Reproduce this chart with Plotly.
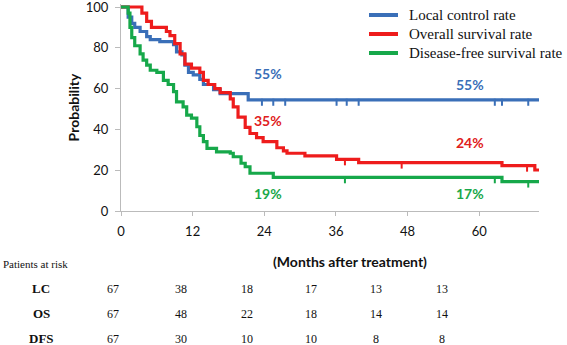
import plotly.graph_objects as go

# ---- data ----
lc_t = [0, 1.2, 1.8, 2.3, 3.2, 4.3, 4.9, 6.5, 8.8, 9.3, 10.2, 10.7, 11.3, 12.1, 13.2, 13.8, 15.5, 16.6, 21.3, 70]
lc_v = [100, 95, 92, 90, 88, 85.5, 84, 83, 81.5, 78, 76.5, 71.5, 68, 66.7, 64.5, 62, 59.5, 57.5, 54.5, 54.5]

os_t = [0, 3.5, 4.3, 5.1, 7.6, 8.2, 9.0, 9.9, 10.7, 11.8, 13.2, 13.8, 14.6, 15.7, 16.6, 18.3, 18.8, 19.6,
        20.8, 21.6, 22.7, 23.8, 26.1, 27.2, 27.8, 30.8, 36.1, 39.8, 63.8, 69.3, 70]
os_v = [100, 97, 93, 90, 88, 86, 82, 77, 72, 70, 68, 64, 62, 60, 58, 55, 51, 46,
        41, 38, 36, 34, 31, 29.5, 28.3, 27, 25.3, 23.7, 22.2, 20.1, 20.1]

dfs_t = [0, 1.2, 1.5, 1.8, 2.3, 3.2, 3.7, 4.3, 4.9, 6.0, 7.1, 7.9, 8.8, 9.3, 10.4, 11.0, 11.8, 12.7, 13.2,
         13.8, 14.4, 16.0, 18.3, 18.8, 20.1, 20.8, 21.6, 25.5, 63.8, 70]
dfs_v = [100, 97, 90, 85, 81, 77, 74, 71.5, 69, 68, 64, 62, 58.5, 53.5, 51, 47, 45.5, 41.3, 37,
         34, 30.7, 29, 28.3, 26.6, 23.4, 21.7, 18.5, 16.5, 14.4, 14.4]

lc_cens = [23.6, 25.5, 27.5, 36.1, 37.8, 39.8, 62.6, 63.8, 68.2]
os_cens = [37.5, 47.0, 68.0]
dfs_cens = [37.5, 62.6, 68.2]

series_names = ["Local control rate", "Overall survival rate", "Disease-free survival rate"]
colors = ["#3a6fb8", "#ee1c1c", "#16a84a"]
label_colors = ["#3a6fb8", "#e02020", "#1aa84a"]

# percentage labels
pct_x = [24.6, 58.5]
lc_pct = ["55%", "55%"]
os_pct = ["35%", "24%"]
dfs_pct = ["19%", "17%"]
lc_pct_y = [67.6, 61.8]
os_pct_y = [44.4, 33.6]
dfs_pct_y = [8.8, 8.6]

x_ticks = [0, 12, 24, 36, 48, 60]
y_ticks = [0, 20, 40, 60, 80, 100]

risk_rows = ["LC", "OS", "DFS"]
risk_lc = [67, 38, 18, 17, 13, 13]
risk_os = [67, 48, 22, 18, 14, 14]
risk_dfs = [67, 30, 10, 10, 8, 8]


def step_value(ts, vs, t):
    v = vs[0]
    for ti, vi in zip(ts, vs):
        if ti <= t:
            v = vi
    return v


fig = go.Figure()
all_series = [(lc_t, lc_v, lc_cens), (os_t, os_v, os_cens), (dfs_t, dfs_v, dfs_cens)]
for (ts, vs, cens), name, col in zip(all_series, series_names, colors):
    fig.add_trace(go.Scatter(x=ts, y=vs, mode="lines", line=dict(shape="hv", color=col, width=3.2),
                             name=name, showlegend=False))
for (ts, vs, cens), col in zip(all_series, colors):
    fig.add_trace(go.Scatter(x=cens, y=[step_value(ts, vs, c) - 1.2 for c in cens], mode="markers",
                             marker=dict(symbol="line-ns", size=5, line=dict(color=col, width=2)),
                             showlegend=False, hoverinfo="skip"))

# percentage labels
for ys, texts, col in [(lc_pct_y, lc_pct, label_colors[0]), (os_pct_y, os_pct, label_colors[1]),
                       (dfs_pct_y, dfs_pct, label_colors[2])]:
    for x, y, t in zip(pct_x, ys, texts):
        fig.add_annotation(x=x, y=y, xref="x", yref="y", text="<b>%s</b>" % t, showarrow=False,
                           xanchor="center", yanchor="middle",
                           font=dict(family="Lato", size=14, color=col))

# pixel -> paper helpers (plot area: left 121, right 539, top 4, bottom 211)
L, R, T, B = 121, 539, 4, 211


def px(xp):
    return (xp - L) / (R - L)


def py(yp):
    return (B - yp) / (B - T)


serif = "Liberation Serif"

# legend (drawn manually to match the compact spacing)
legend_y = [15, 34, 53]
for name, col, yy in zip(series_names, colors, legend_y):
    fig.add_shape(type="line", xref="paper", yref="paper", x0=px(369), x1=px(398), y0=py(yy), y1=py(yy),
                  line=dict(color=col, width=4))
    fig.add_annotation(x=px(407), y=py(yy), xref="paper", yref="paper", text=name, showarrow=False,
                       xanchor="left", yanchor="middle", font=dict(family=serif, size=15, color="#111"))

fig.add_annotation(x=px(350), y=py(261), xref="paper", yref="paper", text="<b>(Months after treatment)</b>",
                   showarrow=False, xanchor="center", yanchor="middle",
                   font=dict(family="Lato", size=14, color="#111"))
fig.add_annotation(x=px(1), y=py(264), xref="paper", yref="paper", text="Patients at risk",
                   showarrow=False, xanchor="left", yanchor="middle",
                   font=dict(family=serif, size=11, color="#111"))

col_x = [113, 181, 247, 311, 376, 442]
row_y = [288, 313, 338]
for name, vals, yy in zip(risk_rows, [risk_lc, risk_os, risk_dfs], row_y):
    fig.add_annotation(x=px(41), y=py(yy), xref="paper", yref="paper", text="<b>%s</b>" % name,
                       showarrow=False, xanchor="center", yanchor="middle",
                       font=dict(family=serif, size=13, color="#111"))
    for v, xx in zip(vals, col_x):
        fig.add_annotation(x=px(xx), y=py(yy + 1), xref="paper", yref="paper", text=str(v),
                           showarrow=False, xanchor="center", yanchor="middle",
                           font=dict(family=serif, size=12, color="#111"))

fig.update_layout(
    width=567, height=345,
    margin=dict(l=L, r=567 - R, t=T, b=345 - B, autoexpand=False),
    paper_bgcolor="white", plot_bgcolor="white",
    showlegend=False,
    font=dict(family="Lato", color="#111"),
)
fig.update_xaxes(range=[0, 70], tickvals=x_ticks, ticks="outside", ticklen=4, tickcolor="#bbbbbb",
                 showline=True, linecolor="#bbbbbb", linewidth=1, showgrid=False, zeroline=False,
                 automargin=False, ticklabelstandoff=4, tickfont=dict(family="Lato", size=13, color="#111"))
fig.update_yaxes(range=[0, 101.47], tickvals=y_ticks, ticks="outside", ticklen=5, tickcolor="#bbbbbb",
                 showline=True, linecolor="#bbbbbb", linewidth=1, showgrid=False, zeroline=False,
                 automargin=False, ticklabeloverflow="allow", ticklabelstandoff=4,
                 title=dict(text="<b>Probability</b>", font=dict(family="Lato", size=14, color="#111"), standoff=2),
                 tickfont=dict(family="Lato", size=13, color="#111"))

fig.write_html("out.html", post_script="document.body.style.margin='0';",
               config={"displayModeBar": False})
